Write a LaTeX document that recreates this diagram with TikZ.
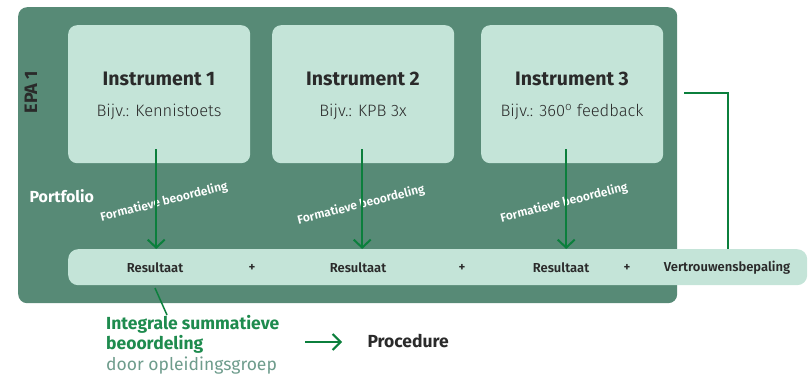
\documentclass[tikz,border=0pt]{standalone}
\usepackage{fontspec}
\setmainfont{Fira Sans}
\newfontfamily\lightf{Fira Sans Light}
\newfontfamily\semif{Fira Sans SemiBold}
\usetikzlibrary{arrows.meta}
\definecolor{darkbg}{HTML}{578A76}
\definecolor{lightbg}{HTML}{C4E4D8}
\definecolor{arrowg}{HTML}{0B7F3C}
\definecolor{txtg}{HTML}{1E8B4E}
\definecolor{greyg}{HTML}{6E9C8C}
\definecolor{ink}{HTML}{2A2A2A}
\begin{document}
\begin{tikzpicture}[x=1pt,y=-1pt,
  outerbox/.style={fill=darkbg,rounded corners=9pt,minimum width=659pt,minimum height=296pt,anchor=north west,inner sep=0pt},
  instbox/.style={fill=lightbg,rounded corners=9pt,minimum width=182pt,minimum height=138pt,anchor=north west,inner sep=0pt},
  bartxt/.style={font=\semif\fontsize{13}{15}\selectfont,text=ink},
  title/.style={font=\bfseries\fontsize{19.5}{22}\selectfont,text=ink},
  sub/.style={font=\lightf\fontsize{16.5}{19}\selectfont,text=ink},
  formtxt/.style={font=\semif\fontsize{12}{13}\selectfont,text=white,rotate=14,inner sep=1pt},
  arr/.style={draw=arrowg,line width=2.2pt,-{Straight Barb[length=8pt,width=17pt,line width=2pt]}},
  conn/.style={draw=arrowg,line width=2pt}
]
\useasboundingbox (0,0) rectangle (808,377);
\node[outerbox] (epa) at (18,7) {};
\node[instbox] (box1) at (68,25) {};
\node[instbox] (box2) at (272,25) {};
\node[instbox] (box3) at (481,25) {};
\node[title] (t1) at (159,79) {Instrument 1};
\node[title] (t2) at (363,79) {Instrument 2};
\node[title] (t3) at (572,79) {Instrument 3};
\node[sub] (s1) at (159,112) {Bijv.: Kennistoets};
\node[sub] (s2) at (363,112) {Bijv.: KPB 3x};
\node[sub] (s3) at (572,112) {Bijv.: 360\textsuperscript{o} feedback};
\node[font=\bfseries\fontsize{18}{20}\selectfont,text=ink,rotate=90] (epalbl) at (31,92) {EPA 1};
\node[font=\bfseries\fontsize{16}{18}\selectfont,text=white,anchor=west] (portf) at (26,196) {Portfolio};
\node[fill=lightbg,rounded corners=10pt,minimum width=739pt,minimum height=36pt,anchor=north west,inner sep=0pt] (bar) at (68,249) {};
\node[formtxt] (f1) at (164,202) {Formatieve beoordeling};
\node[formtxt] (f2) at (361,205) {Formatieve beoordeling};
\node[formtxt] (f3) at (564,203) {Formatieve beoordeling};
\draw[arr] ([xshift=-3pt,yshift=14pt]box1.south) -- ([xshift=-3pt]box1.south |- bar.north);
\draw[arr] ([xshift=-1pt,yshift=14pt]box2.south) -- ([xshift=-1pt]box2.south |- bar.north);
\draw[arr] ([xshift=-6pt,yshift=14pt]box3.south) -- ([xshift=-6pt]box3.south |- bar.north);
\node[bartxt] (r1) at (155,268) {Resultaat};
\node[bartxt] (p1) at (252,268) {+};
\node[bartxt] (r2) at (358,268) {Resultaat};
\node[bartxt] (p2) at (462,268) {+};
\node[bartxt] (r3) at (561,268) {Resultaat};
\node[bartxt] (p3) at (627,268) {+};
\node[bartxt] (vb) at (727,268) {Vertrouwensbepaling};
\coordinate (c1) at (684,93);
\coordinate (c2) at (728,249);
\draw[conn] (c1) -| (c2);
\node[anchor=north west,align=left,inner sep=0pt,font=\bfseries\fontsize{17.5}{20.5}\selectfont,text=txtg] (integ) at (106,315) {Integrale summatieve\\beoordeling\\\textcolor{greyg}{\mdseries door opleidingsgroep}};
\coordinate (l1) at (155,288);
\draw[draw=arrowg,line width=1.5pt] (l1) -- (integ.north west -| 167,0);
\node[font=\bfseries\fontsize{17.5}{20}\selectfont,text=ink,anchor=west] (proc) at (364,341) {Procedure};
\coordinate (pa) at (305,342);
\draw[draw=arrowg,line width=2pt,-{Straight Barb[length=8pt,width=16pt,line width=2pt]}] (pa) -- ([xshift=-22pt]proc.west |- pa);
\end{tikzpicture}
\end{document}
